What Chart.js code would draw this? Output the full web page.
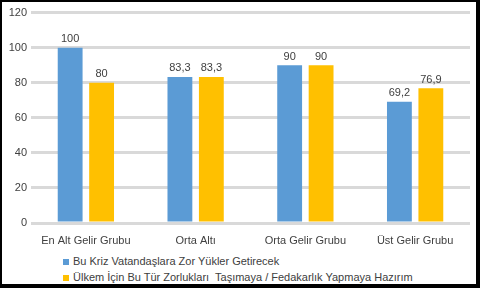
<!DOCTYPE html>
<html lang="tr">
<head>
    <meta charset="UTF-8">
    <title>Gelir Grubu</title>
    <script src="https://cdn.jsdelivr.net/npm/chart.js"></script>
    <style>
        body { margin: 0; background: #fff; }
        .frame {
            position: relative;
            width: 480px; height: 288px;
            box-sizing: border-box;
            border-top: 2px solid #000; border-left: 2px solid #000;
            border-right: 4px solid #000; border-bottom: 4px solid #000;
            background: #fff;
        }
        .chart-box { position: absolute; left: 0; top: 0; width: 474px; height: 250px; }
        .legend {
            position: absolute; left: 61px; top: 251px;
            font-family: "Liberation Sans", Arial, sans-serif; font-size: 11px; color: #404040;
        }
        .legend div { height: 16px; line-height: 16px; white-space: pre; }
        .legend span.box {
            display: inline-block; width: 6px; height: 6px; margin-right: 4px; vertical-align: 0px;
        }
    </style>
</head>
<body>
    <div class="frame">
        <div class="chart-box"><canvas id="grafik"></canvas></div>
        <div class="legend" id="legend"></div>
    </div>

    <script>
        const kategoriler = ['En Alt Gelir Grubu', 'Orta Altı', 'Orta Gelir Grubu', 'Üst Gelir Grubu'];
        const seri1Adi = 'Bu Kriz Vatandaşlara Zor Yükler Getirecek';
        const seri2Adi = 'Ülkem İçin Bu Tür Zorlukları  Taşımaya / Fedakarlık Yapmaya Hazırım';
        const seri1 = [100, 83.3, 90, 69.2];
        const seri2 = [80, 83.3, 90, 76.9];
        const yTicks = [0, 20, 40, 60, 80, 100, 120];

        const mavi = '#5B9BD5';
        const sari = '#FFC000';
        const yaziFont = '"Liberation Sans", Arial, sans-serif';

        // degerleri cubuklarin ustune yaz
        const degerEtiketleri = {
            id: 'degerEtiketleri',
            afterDatasetsDraw(chart) {
                const ctx = chart.ctx;
                ctx.save();
                ctx.font = '11px ' + yaziFont;
                ctx.fillStyle = '#404040';
                ctx.textAlign = 'center';
                ctx.textBaseline = 'bottom';
                chart.data.datasets.forEach((ds, i) => {
                    chart.getDatasetMeta(i).data.forEach((bar, j) => {
                        ctx.fillText(String(ds.data[j]).replace('.', ','), bar.x, bar.y - 3);
                    });
                });
                ctx.restore();
            }
        };

        new Chart(document.getElementById('grafik'), {
            type: 'bar',
            data: {
                labels: kategoriler,
                datasets: [
                    { label: seri1Adi, data: seri1, backgroundColor: mavi },
                    { label: seri2Adi, data: seri2, backgroundColor: sari }
                ]
            },
            options: {
                responsive: true,
                maintainAspectRatio: false,
                animation: false,
                layout: { padding: { left: 0, top: 9, right: 6, bottom: 0 } },
                datasets: { bar: { categoryPercentage: 0.573, barPercentage: 0.79 } },
                plugins: {
                    legend: { display: false },
                    tooltip: { enabled: false }
                },
                scales: {
                    x: {
                        grid: { display: false },
                        border: { display: false },
                        ticks: { color: '#404040', font: { family: yaziFont, size: 11 }, padding: 3 },
                        afterFit(scale) { scale.height = 29; }
                    },
                    y: {
                        min: 0, max: 120,
                        afterBuildTicks(scale) { scale.ticks = yTicks.map(v => ({ value: v })); },
                        grid: { color: '#D9D9D9', lineWidth: 3, drawTicks: false },
                        border: { display: false },
                        ticks: { color: '#404040', font: { family: yaziFont, size: 11 }, padding: 4 },
                        afterFit(scale) { scale.width = 29; }
                    }
                }
            },
            plugins: [degerEtiketleri]
        });

        // lejant
        const legend = document.getElementById('legend');
        [[seri1Adi, mavi], [seri2Adi, sari]].forEach(([ad, renk]) => {
            const satir = document.createElement('div');
            satir.innerHTML = `<span class="box" style="background:${renk}"></span>${ad}`;
            legend.appendChild(satir);
        });
    </script>
</body>
</html>
